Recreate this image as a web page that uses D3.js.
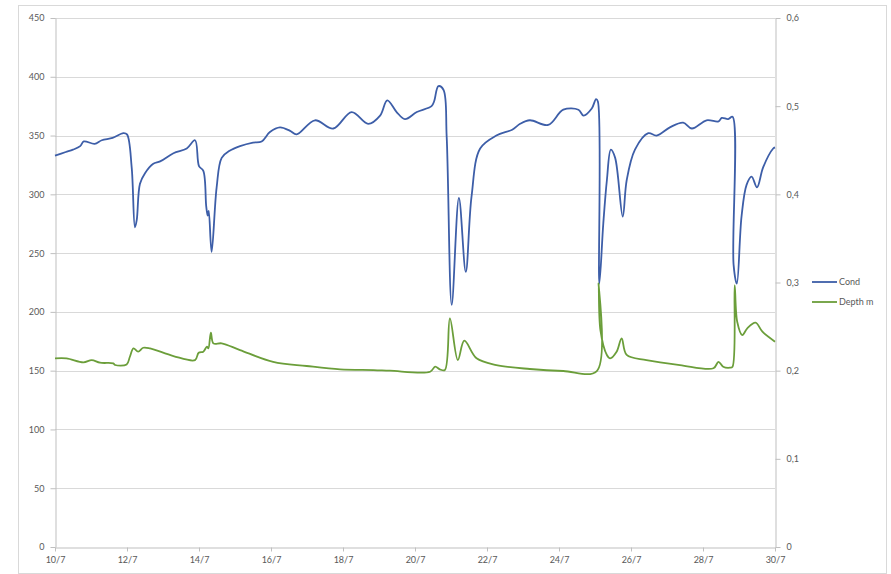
<!DOCTYPE html>
<html>
<head>
<meta charset="utf-8">
<script src="https://cdn.jsdelivr.net/npm/d3@7"></script>
<style>
  body { margin: 0; background: #fff; }
  text { font-family: Lato, "Liberation Sans", sans-serif; }
</style>
</head>
<body>
<svg id="chart" width="891" height="574"></svg>
<script>
const width = 891;
const height = 574;
const svg = d3.select("#chart");

// day of July, conductivity
const condDays = [10, 10.3, 10.5, 10.7, 10.8, 11.1, 11.3, 11.6, 11.9, 12.0, 12.13, 12.22, 12.27, 12.36, 12.5, 12.73, 12.92, 13.29, 13.66, 13.89, 14.0, 14.12, 14.2, 14.24, 14.27, 14.35, 14.49, 14.63, 14.85, 15.14, 15.5, 15.74, 15.97, 16.25, 16.53, 16.71, 17.22, 17.73, 18.24, 18.7, 19.03, 19.23, 19.49, 19.72, 20.05, 20.46, 20.53, 20.65, 20.79, 20.88, 21.02, 21.22, 21.41, 21.57, 21.81, 22.26, 22.7, 22.92, 23.19, 23.7, 24.12, 24.54, 24.68, 24.91, 25.03, 25.08, 25.12, 25.23, 25.33, 25.44, 25.56, 25.77, 25.88, 26.11, 26.48, 26.71, 27.08, 27.45, 27.69, 28.1, 28.43, 28.52, 28.7, 28.82, 28.85, 28.94, 29.07, 29.21, 29.35, 29.5, 29.67, 29.95, 30];
const condValues = [333, 336, 338, 341, 345, 343, 346, 348, 352, 351, 323, 272, 278, 309, 318, 326, 328, 335, 339, 346, 324, 320, 290, 282, 286, 251, 306, 331, 337, 341, 344, 345, 353, 357, 354, 351, 363, 356, 370, 360, 367, 380, 370, 364, 370, 375, 379, 392, 389, 349, 206, 297, 234, 298, 339, 350, 355, 360, 363, 359, 372, 372, 367, 373, 381, 379, 224, 275, 312, 338, 331, 281, 312, 338, 352, 350, 357, 361, 356, 363, 362, 365, 364, 366, 240, 224, 281, 308, 315, 306, 323, 339, 340];

// day of July, depth in m
const depthDays = [10, 10.32, 10.79, 11.02, 11.25, 11.62, 11.67, 11.99, 12.08, 12.18, 12.31, 12.45, 12.64, 13.29, 13.89, 13.99, 14.12, 14.22, 14.26, 14.33, 14.4, 14.63, 15.14, 16.06, 16.99, 17.92, 18.85, 19.3, 20.42, 20.56, 20.69, 20.83, 20.97, 21.19, 21.37, 21.71, 22.26, 23.19, 24.12, 25.05, 25.1, 25.15, 25.33, 25.42, 25.6, 25.74, 25.88, 26.43, 27.36, 28.29, 28.43, 28.56, 28.75, 28.82, 28.88, 28.95, 29.09, 29.23, 29.46, 29.65, 30];
const depthValues = [0.214, 0.214, 0.2095, 0.212, 0.209, 0.2083, 0.2064, 0.207, 0.2158, 0.2253, 0.2215, 0.226, 0.2253, 0.2166, 0.212, 0.2204, 0.2215, 0.2272, 0.2253, 0.243, 0.231, 0.231, 0.2234, 0.21, 0.2053, 0.2015, 0.2007, 0.2, 0.1988, 0.2045, 0.2015, 0.2007, 0.2594, 0.212, 0.234, 0.214, 0.2064, 0.2019, 0.1996, 0.1996, 0.299, 0.246, 0.2178, 0.214, 0.2215, 0.2367, 0.2178, 0.212, 0.2064, 0.2027, 0.21, 0.2045, 0.2034, 0.2045, 0.297, 0.2555, 0.2404, 0.248, 0.2544, 0.2442, 0.2329];

const leftTicks = [0, 50, 100, 150, 200, 250, 300, 350, 400, 450];
const rightTicks = [0, 0.1, 0.2, 0.3, 0.4, 0.5, 0.6];
const dayTicks = [10, 12, 14, 16, 18, 20, 22, 24, 26, 28, 30];
const seriesNames = ["Cond", "Depth m"];
const seriesColors = ["#3d5ea8", "#6b9e3a"];

const plot = { left: 55, right: 775, top: 18, bottom: 547 };

const x = d3.scaleLinear().domain([10, 30]).range([plot.left, plot.right]);
const yL = d3.scaleLinear().domain([0, 450]).range([plot.bottom, plot.top]);
const yR = d3.scaleLinear().domain([0, 0.6]).range([plot.bottom, plot.top]);

// outer chart border
svg.append("rect")
    .attr("x", 18.5).attr("y", 5.5)
    .attr("width", 868).attr("height", 568)
    .attr("fill", "none")
    .attr("stroke", "#d9d9d9");

// gridlines
svg.append("g")
    .selectAll("line")
    .data(leftTicks.filter(d => d > 0))
    .enter()
    .append("line")
    .attr("x1", plot.left).attr("x2", plot.right)
    .attr("y1", d => Math.round(yL(d)) + 0.5)
    .attr("y2", d => Math.round(yL(d)) + 0.5)
    .attr("stroke", "#d9d9d9");

function styleAxis(g) {
    g.selectAll("path").attr("stroke", "#bfbfbf");
    g.selectAll("line").attr("stroke", "#bfbfbf");
    g.selectAll("text")
        .attr("fill", "#595959")
        .style("font-size", "9px");
}

svg.append("g")
    .attr("transform", "translate(" + (plot.left + 0.5) + ",0)")
    .call(d3.axisLeft(yL).tickValues(leftTicks).tickSize(5).tickSizeOuter(0).tickPadding(6))
    .call(styleAxis);

svg.append("g")
    .attr("transform", "translate(" + (plot.right + 0.5) + ",0)")
    .call(d3.axisRight(yR).tickValues(rightTicks).tickSize(5).tickSizeOuter(0).tickPadding(6)
        .tickFormat(d => d3.format(".1~f")(d).replace(".", ",")))
    .call(styleAxis);

svg.append("g")
    .attr("transform", "translate(0," + (plot.bottom + 0.5) + ")")
    .call(d3.axisBottom(x).tickValues(dayTicks).tickSize(4).tickSizeOuter(0).tickPadding(5)
        .tickFormat(d => d + "/7"))
    .call(styleAxis);

// series
const condData = condDays.map((d, i) => [d, condValues[i]]);
const depthData = depthDays.map((d, i) => [d, depthValues[i]]);

const condLine = d3.line().x(d => x(d[0])).y(d => yL(d[1])).curve(d3.curveCatmullRom.alpha(0.5));
const depthLine = d3.line().x(d => x(d[0])).y(d => yR(d[1])).curve(d3.curveCatmullRom.alpha(0.5));

svg.append("path")
    .datum(condData)
    .attr("d", condLine)
    .attr("fill", "none")
    .attr("stroke", seriesColors[0])
    .attr("stroke-width", 1.8)
    .attr("stroke-linejoin", "round");

svg.append("path")
    .datum(depthData)
    .attr("d", depthLine)
    .attr("fill", "none")
    .attr("stroke", seriesColors[1])
    .attr("stroke-width", 1.8)
    .attr("stroke-linejoin", "round");

// legend
const legend = svg.append("g")
    .selectAll("g")
    .data(seriesNames)
    .enter()
    .append("g")
    .attr("transform", (d, i) => "translate(812," + (282 + i * 20) + ")");

legend.append("line")
    .attr("x1", 0).attr("x2", 25)
    .attr("stroke", (d, i) => seriesColors[i])
    .attr("stroke-width", 1.8);

legend.append("text")
    .attr("x", 27).attr("dy", "0.35em")
    .attr("fill", "#595959")
    .style("font-size", "9px")
    .text(d => d);
</script>
</body>
</html>
